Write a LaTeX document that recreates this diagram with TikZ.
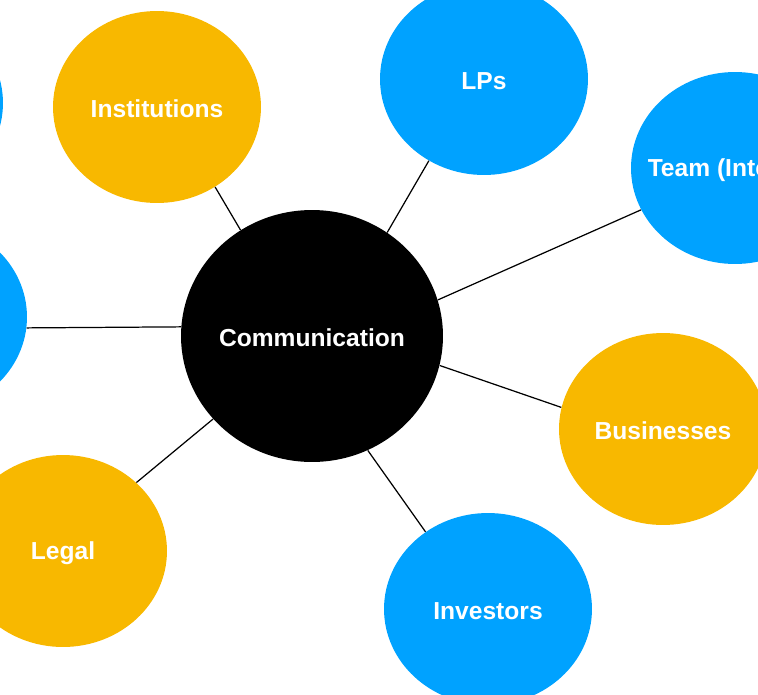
\documentclass[tikz,border=0pt]{standalone}
\usepackage{fontspec}
\setmainfont{Liberation Sans}
\usetikzlibrary{shapes.geometric}

\definecolor{hubblue}{RGB}{0,162,255}
\definecolor{huborange}{RGB}{248,184,0}

\tikzset{
  bubble/.style={ellipse, minimum width=4.16cm, minimum height=3.84cm, inner sep=0pt},
  bubbletext/.style={text=white, font=\fontsize{14}{16}\selectfont\bfseries, yshift=-1.1pt},
  spoke/.style={black, line width=0.7pt}
}

\begin{document}
\begin{tikzpicture}[x=0.02cm, y=-0.02cm]

  \useasboundingbox (0,0) rectangle (758,694);
  \clip (0,0) rectangle (758,694);

  % the hub in the middle
  \node[ellipse, fill=black, minimum width=5.24cm, minimum height=5.04cm, inner sep=0pt,
    label={[bubbletext]center:Communication}] (comm) at (312,336) {};

  % outer bubbles, text kept out of the shape size
  \foreach \name/\x/\y/\col/\txt in {
      inst/157/107/huborange/Institutions,
      lps/484/79/hubblue/LPs,
      team/735/168/hubblue/Team (Internal),
      biz/663/429/huborange/Businesses,
      inv/488/609/hubblue/Investors,
      legal/63/551/huborange/Legal,
      west/-77/317/hubblue/,
      north/-101/103/hubblue/
    } {
      \node[bubble, fill=\col, label={[bubbletext]center:\txt}] (\name) at (\x,\y) {};
    }

  % spokes from the hub
  \foreach \name/\a/\b in {
      inst/124.7/-54.7,
      lps/54.8/-124,
      team/16.7/204.6,
      biz/-13.1/168.3,
      inv/-64.8/129.7,
      legal/220.6/43.4,
      west/176.9/-6.6
    } {
      \draw[spoke] (comm.\a) -- (\name.\b);
    }

\end{tikzpicture}
\end{document}
